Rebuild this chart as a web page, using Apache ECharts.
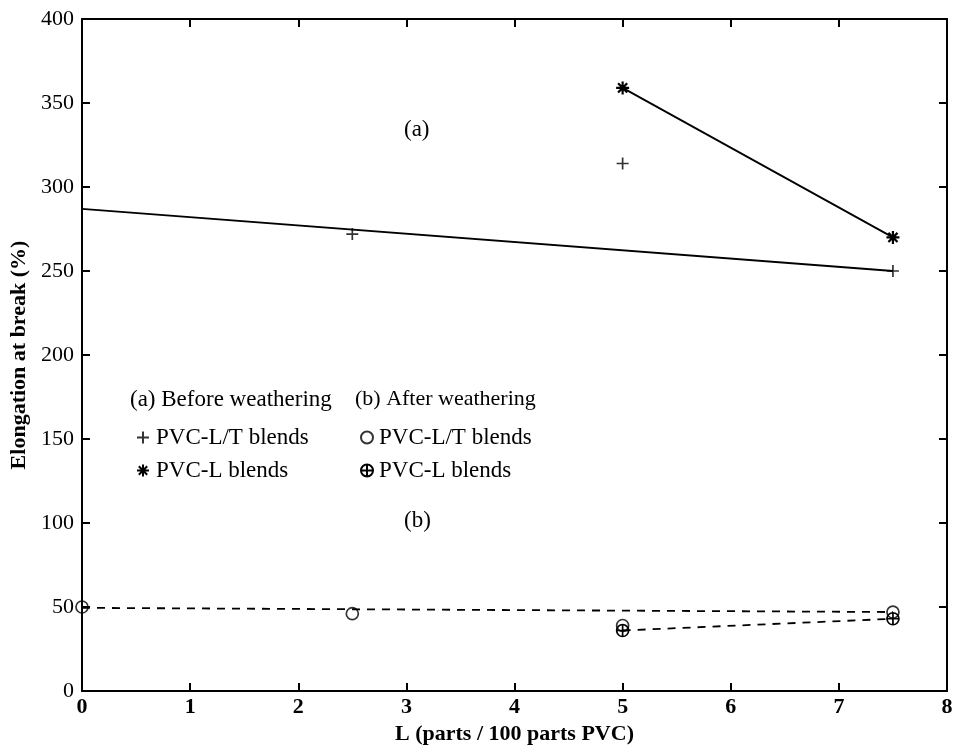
<!DOCTYPE html>
<html><head><meta charset="utf-8">
<script src="https://cdn.jsdelivr.net/npm/echarts@6/dist/echarts.min.js"></script>
<style>html,body{margin:0;padding:0;background:#fff}#c{width:953px;height:745px}</style>
</head><body><div id="c"></div>
<script>
// Data
const xTicks = [0,1,2,3,4,5,6,7,8];
const yTicks = [0,50,100,150,200,250,300,350,400];
const beforeLT = [[2.5,272],[5,314],[7.5,250]];       // + PVC-L/T blends (before)
const beforeLTFit = [[0,287],[7.5,250]];               // solid fit line
const beforeL = [[5,359],[7.5,270]];                   // * PVC-L blends (before)
const afterLT = [[0,50],[2.5,46],[5,39],[7.5,47]];     // o PVC-L/T blends (after)
const afterLTFit = [[0,49.5],[7.5,47]];                // dashed fit line
const afterL = [[5,36],[7.5,43]];                      // (+) PVC-L blends (after)

const FONT = 'Liberation Serif';
const PLUS = 'path://M5,0L5,10M0,5L10,5';
const STAR = 'path://M5,0L5,10M0,5L10,5M1.5,1.5L8.5,8.5M1.5,8.5L8.5,1.5';
const OPLUS = 'path://M0,5A5,5,0,1,1,10,5A5,5,0,1,1,0,5ZM5,0L5,10M0,5L10,5';
const CIRC = 'path://M0,5A5,5,0,1,1,10,5A5,5,0,1,1,0,5Z';

const mk = {color:'rgba(0,0,0,0)', borderColor:'#000', borderWidth:1.7};
const chart = echarts.init(document.getElementById('c'), null, {renderer:'canvas'});
const strip = n => n.replace(/ \(.\)$/,'');
const axisCommon = {
  min:0, axisLine:{show:true, onZero:false, lineStyle:{color:'#000', width:2}},
  axisTick:{show:true, inside:true, length:8, lineStyle:{color:'#000', width:2}},
  splitLine:{show:false}
};
chart.setOption({
  animation:false,
  grid:{left:82, right:6, top:19, bottom:54, containLabel:false, outerBoundsMode:'none'},
  xAxis:[
    Object.assign({type:'value', max:8, interval:1, position:'bottom',
      axisLabel:{color:'#000', fontFamily:FONT, fontSize:22, fontWeight:'bold', margin:5,
        formatter:v=>xTicks.includes(v)?String(v):''},
      name:'L (parts / 100 parts PVC)', nameLocation:'middle', nameGap:30,
      nameTextStyle:{color:'#000', fontFamily:FONT, fontSize:22, fontWeight:'bold'}}, axisCommon),
    Object.assign({type:'value', max:8, interval:1, position:'top', axisLabel:{show:false}}, axisCommon)
  ],
  yAxis:[
    Object.assign({type:'value', max:400, interval:50, position:'left',
      axisLabel:{color:'#000', fontFamily:FONT, fontSize:22, margin:8,
        formatter:v=>yTicks.includes(v)?String(v):''},
      name:'Elongation at break (%)', nameLocation:'middle', nameGap:50,
      nameTextStyle:{color:'#000', fontFamily:FONT, fontSize:22, fontWeight:'bold'}}, axisCommon),
    Object.assign({type:'value', max:400, interval:50, position:'right', axisLabel:{show:false}}, axisCommon)
  ],
  legend:[
    {orient:'vertical', left:131, top:421, itemWidth:12, itemHeight:12, itemGap:10,
     formatter:strip, selectedMode:false,
     textStyle:{color:'#000', fontFamily:FONT, fontSize:23, lineHeight:23, padding:[0,0,0,2]},
     data:[{name:'PVC-L/T blends (a)', icon:PLUS},{name:'PVC-L blends (a)', icon:STAR}]},
    {orient:'vertical', left:355, top:421, itemWidth:12, itemHeight:12, itemGap:10,
     formatter:strip, selectedMode:false,
     textStyle:{color:'#000', fontFamily:FONT, fontSize:23, lineHeight:23, padding:[0,0,0,1]},
     data:[{name:'PVC-L/T blends (b)', icon:CIRC},{name:'PVC-L blends (b)', icon:OPLUS}]}
  ],
  graphic:[
    {type:'text', left:130, top:388, style:{text:'(a) Before weathering', fill:'#000', font:'23px "Liberation Serif"'}},
    {type:'text', left:355, top:388, style:{text:'(b) After weathering', fill:'#000', font:'22px "Liberation Serif"'}},
    {type:'text', left:404, top:118, style:{text:'(a)', fill:'#000', font:'23px "Liberation Serif"'}},
    {type:'text', left:404, top:509, style:{text:'(b)', fill:'#000', font:'23px "Liberation Serif"'}}
  ],
  series:[
    {name:'fitA', type:'line', data:beforeLTFit, showSymbol:false, symbol:'none',
     lineStyle:{color:'#000', width:1.8}, z:2, silent:true},
    {name:'PVC-L/T blends (a)', type:'scatter', data:beforeLT, symbol:PLUS, symbolSize:12, itemStyle:mk, z:3},
    {name:'PVC-L blends (a)', type:'line', data:beforeL, symbol:STAR, symbolSize:13, showAllSymbol:true,
     itemStyle:Object.assign({}, mk, {borderWidth:2.2}), lineStyle:{color:'#000', width:1.8}, z:3},
    {name:'fitB', type:'line', data:afterLTFit, showSymbol:false, symbol:'none',
     lineStyle:{color:'#000', width:1.8, type:[8,7]}, z:2, silent:true},
    {name:'PVC-L/T blends (b)', type:'scatter', data:afterLT, symbol:CIRC, symbolSize:12, itemStyle:mk, z:3},
    {name:'PVC-L blends (b)', type:'line', data:afterL, symbol:OPLUS, symbolSize:12, showAllSymbol:true,
     itemStyle:mk, lineStyle:{color:'#000', width:1.8, type:[8,7]}, z:3}
  ]
});
</script></body></html>
